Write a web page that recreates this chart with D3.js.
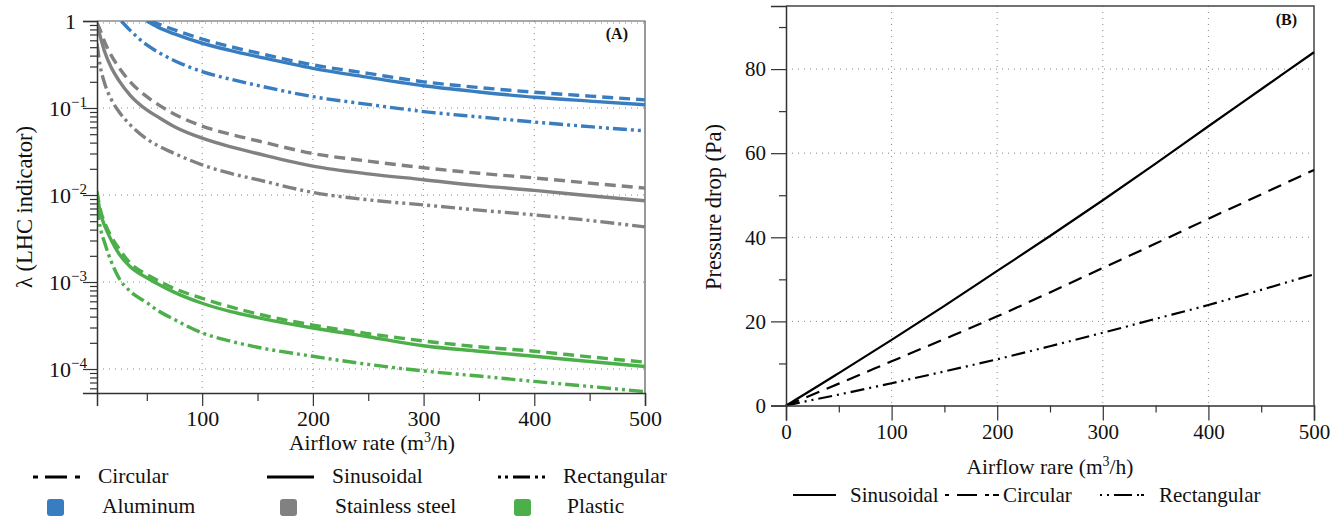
<!DOCTYPE html>
<html>
<head>
<meta charset="utf-8">
<script src="https://cdn.jsdelivr.net/npm/d3@7"></script>
<style>
  body { margin: 0; background: #fff; }
  text { font-family: "Liberation Serif", "DejaVu Serif", serif; fill: #111; }
</style>
</head>
<body>
<script>
// ---- data ----
// panel A: LHC indicator vs airflow rate, log scale
const flowA = [5, 8, 12, 18, 25, 35, 50, 60, 75, 100, 125, 150, 200, 250, 300, 350, 400, 450, 500];

// aluminum curves only enter the frame at lambda = 1
const aluSinFlow = [50, 60, 75, 100, 125, 150, 200, 250, 300, 350, 400, 450, 500];
const aluSin = [1.0, 0.85, 0.71, 0.555, 0.46, 0.39, 0.286, 0.225, 0.18, 0.153, 0.133, 0.12, 0.109];
const aluCirFlow = [54, 60, 75, 100, 125, 150, 200, 250, 300, 350, 400, 450, 500];
const aluCir = [1.0, 0.93, 0.79, 0.62, 0.51, 0.43, 0.313, 0.25, 0.20, 0.172, 0.152, 0.137, 0.124];
const aluRecFlow = [27, 35, 50, 60, 75, 100, 125, 150, 200, 250, 300, 350, 400, 450, 500];
const aluRec = [1.0, 0.78, 0.53, 0.44, 0.35, 0.262, 0.215, 0.182, 0.135, 0.11, 0.091, 0.079, 0.069, 0.061, 0.0546];

const steelSin = [0.90, 0.66, 0.44, 0.29, 0.205, 0.14, 0.095, 0.079, 0.061, 0.045, 0.036, 0.030, 0.0215, 0.0175, 0.015, 0.0128, 0.0113, 0.0098, 0.0086];
const steelCir = [0.95, 0.78, 0.57, 0.40, 0.29, 0.20, 0.135, 0.11, 0.085, 0.062, 0.05, 0.042, 0.030, 0.0245, 0.0206, 0.0178, 0.0157, 0.0137, 0.012];
const steelRec = [0.55, 0.30, 0.19, 0.125, 0.09, 0.064, 0.044, 0.037, 0.030, 0.0222, 0.0178, 0.015, 0.0107, 0.0088, 0.0077, 0.0067, 0.0059, 0.0051, 0.0043];

const plasSin = [0.0105, 0.0063, 0.0044, 0.003, 0.0021, 0.0015, 0.00112, 0.00095, 0.00076, 0.00057, 0.00046, 0.00039, 0.000296, 0.000235, 0.000185, 0.00016, 0.00014, 0.000122, 0.000107];
const plasCir = [0.011, 0.0068, 0.0048, 0.0033, 0.0024, 0.00165, 0.00122, 0.00104, 0.00084, 0.00065, 0.00052, 0.00043, 0.00032, 0.000255, 0.00021, 0.00018, 0.00016, 0.000138, 0.00012];
const plasRec = [0.0075, 0.0042, 0.0028, 0.0017, 0.0011, 0.00078, 0.00058, 0.00047, 0.00037, 0.00026, 0.00021, 0.000178, 0.00014, 0.000113, 0.000095, 0.000083, 0.000072, 0.000063, 0.000055];

// panel B: pressure drop vs airflow rate
const flowB = [0, 5, 50, 100, 150, 200, 250, 300, 350, 400, 450, 500];
const dpSin = [0, 0.75, 7.7, 15.6, 23.7, 32, 40.3, 48.8, 57.5, 66.4, 75.2, 84];
const dpCir = [0, 0.5, 5.2, 10.5, 15.8, 21.2, 26.9, 32.7, 38.5, 44.4, 50.2, 56];
const dpRec = [0, 0.27, 2.6, 5.3, 8.1, 11, 14.1, 17.3, 20.6, 23.9, 27.5, 31.2];

const ticksA_x = [100, 200, 300, 400, 500];
const decadesA = [-4, -3, -2, -1, 0];
const ticksB_x = [0, 100, 200, 300, 400, 500];
const ticksB_y = [0, 20, 40, 60, 80];

const materials = ["Aluminum", "Stainless steel", "Plastic"];
const colors = { "Aluminum": "#397dc1", "Stainless steel": "#818181", "Plastic": "#4caf4a" };
const dash = { sin: null, cir: "11,6", rec: "14,4,3,4,3,4" };

const svg = d3.select("body").append("svg")
    .attr("width", 1341)
    .attr("height", 518)
    .style("background", "#fff");

// ================= panel A =================
const A = { left: 97, right: 645, top: 21, bottom: 393 };
const xA = d3.scaleLinear().domain([5, 500]).range([A.left, A.right]);
const yA = d3.scaleLog().domain([5.3e-5, 1]).range([A.bottom, A.top]);

svg.append("clipPath").attr("id", "clipA")
    .append("rect").attr("x", A.left).attr("y", A.top)
    .attr("width", A.right - A.left).attr("height", A.bottom - A.top);

// grid
const gridA = svg.append("g").attr("stroke", "#888").attr("stroke-width", 1).attr("stroke-dasharray", "1,5");
ticksA_x.filter(d => d < 500).forEach(d => {
    gridA.append("line").attr("x1", xA(d)).attr("x2", xA(d)).attr("y1", A.top).attr("y2", A.bottom);
});
decadesA.forEach(e => {
    const yy = yA(Math.pow(10, e)) + (e === 0 ? 2 : 0);
    gridA.append("line").attr("x1", A.left).attr("x2", A.right).attr("y1", yy).attr("y2", yy);
});

// frame top/right
svg.append("path")
    .attr("d", `M${A.left},${A.top}H${A.right}V${A.bottom}`)
    .attr("fill", "none").attr("stroke", "#555").attr("stroke-width", 1.2);

const lineA = d3.line().x(d => xA(d[0])).y(d => yA(d[1])).curve(d3.curveMonotoneX);
const seriesA = [
    { m: "Aluminum", k: "cir", x: aluCirFlow, y: aluCir },
    { m: "Aluminum", k: "sin", x: aluSinFlow, y: aluSin },
    { m: "Aluminum", k: "rec", x: aluRecFlow, y: aluRec },
    { m: "Stainless steel", k: "cir", x: flowA, y: steelCir },
    { m: "Stainless steel", k: "sin", x: flowA, y: steelSin },
    { m: "Stainless steel", k: "rec", x: flowA, y: steelRec },
    { m: "Plastic", k: "cir", x: flowA, y: plasCir },
    { m: "Plastic", k: "sin", x: flowA, y: plasSin },
    { m: "Plastic", k: "rec", x: flowA, y: plasRec }
];
const plotA = svg.append("g").attr("clip-path", "url(#clipA)");
seriesA.forEach(s => {
    plotA.append("path")
        .datum(s.x.map((v, i) => [v, s.y[i]]))
        .attr("d", lineA)
        .attr("fill", "none")
        .attr("stroke", colors[s.m])
        .attr("stroke-width", 3.4)
        .attr("stroke-dasharray", dash[s.k]);
});

// x axis A
svg.append("g").attr("class", "axA").attr("transform", `translate(0,${A.bottom})`)
    .call(d3.axisBottom(xA).tickValues(ticksA_x).tickSize(13).tickPadding(4).tickFormat(d3.format("d")));
svg.append("g").attr("transform", `translate(0,${A.bottom})`)
    .call(d3.axisBottom(xA).tickValues([50, 150, 250, 350, 450]).tickSize(8).tickFormat(""))
    .call(g => g.select(".domain").remove());

// y axis A
const minorA = [];
[-5, -4, -3, -2, -1].forEach(e => { for (let k = 2; k <= 9; k++) { const v = k * Math.pow(10, e); if (v >= 5.3e-5 && v < 1) minorA.push(v); } });
svg.append("g").attr("transform", `translate(${A.left},0)`)
    .call(d3.axisLeft(yA).tickValues(decadesA.map(e => Math.pow(10, e))).tickSize(14).tickFormat(""));
svg.append("g").attr("transform", `translate(${A.left},0)`)
    .call(d3.axisLeft(yA).tickValues(minorA).tickSize(7).tickFormat(""))
    .call(g => g.select(".domain").remove());

decadesA.forEach(e => {
    const t = svg.append("text")
        .attr("x", e === 0 ? A.left - 21 : A.left - 10)
        .attr("y", yA(Math.pow(10, e)) + 8)
        .attr("text-anchor", "end")
        .attr("font-size", 22);
    if (e === 0) { t.text("1"); }
    else {
        t.append("tspan").text("10");
        t.append("tspan").attr("dy", -9).attr("font-size", 15).text("\u2212" + (-e));
    }
});

svg.append("text").attr("x", 628).attr("y", 39).attr("text-anchor", "end")
    .attr("font-size", 16).attr("font-weight", "bold").text("(A)");

svg.append("text").attr("x", (A.left + A.right) / 2 + 1).attr("y", 450)
    .attr("text-anchor", "middle").attr("font-size", 21.5)
    .call(t => {
        t.append("tspan").text("Airflow rate (m");
        t.append("tspan").attr("dy", -8).attr("font-size", 14).text("3");
        t.append("tspan").attr("dy", 8).text("/h)");
    });
svg.append("text").attr("transform", `translate(32,207) rotate(-90)`)
    .attr("text-anchor", "middle").attr("font-size", 22.5).text("\u03bb (LHC indicator)");

// legend A
const legA = svg.append("g");
const styleRows = [
    { label: "Circular", x1: 33, x2: 80, tx: 98, da: "5,7,22,8,6" },
    { label: "Sinusoidal", x1: 267, x2: 314, tx: 332, da: null },
    { label: "Rectangular", x1: 498, x2: 545, tx: 563, da: "3,4,3,5,17,5,3,4,3" }
];
styleRows.forEach(r => {
    legA.append("line").attr("x1", r.x1).attr("x2", r.x2).attr("y1", 477).attr("y2", 477)
        .attr("stroke", "#000").attr("stroke-width", 3).attr("stroke-dasharray", r.da);
    legA.append("text").attr("x", r.tx).attr("y", 483).attr("font-size", 21.5).text(r.label);
});
const matX = [{ sx: 47, tx: 102 }, { sx: 280, tx: 335 }, { sx: 514, tx: 567 }];
materials.forEach((m, i) => {
    legA.append("rect").attr("x", matX[i].sx).attr("y", 499).attr("width", 17).attr("height", 17)
        .attr("rx", 3).attr("fill", colors[m]);
    legA.append("text").attr("x", matX[i].tx).attr("y", 513).attr("font-size", 21.5).text(m);
});

// ================= panel B =================
const B = { left: 786, right: 1314, top: 6, bottom: 405.5 };
const xB = d3.scaleLinear().domain([0, 500]).range([B.left, B.right]);
const yB = d3.scaleLinear().domain([0, 95]).range([B.bottom, B.top]);

const gridB = svg.append("g").attr("stroke", "#888").attr("stroke-width", 1).attr("stroke-dasharray", "1,5");
[100, 200, 300, 400].forEach(d => {
    gridB.append("line").attr("x1", xB(d)).attr("x2", xB(d)).attr("y1", B.top).attr("y2", B.bottom);
});
[20, 40, 60, 80].forEach(d => {
    gridB.append("line").attr("x1", B.left).attr("x2", B.right).attr("y1", yB(d)).attr("y2", yB(d));
});
svg.append("path")
    .attr("d", `M${B.left},${B.top}H${B.right}V${B.bottom}`)
    .attr("fill", "none").attr("stroke", "#444").attr("stroke-width", 1.5);

const lineB = d3.line().x(d => xB(d[0])).y(d => yB(d[1])).curve(d3.curveMonotoneX);
const seriesB = [
    { y: dpSin, da: null },
    { y: dpCir, da: "14,8" },
    { y: dpRec, da: "14,5,2,5,2,5" }
];
seriesB.forEach(s => {
    svg.append("path")
        .datum(flowB.map((v, i) => [v, s.y[i]]))
        .attr("d", lineB)
        .attr("fill", "none").attr("stroke", "#000").attr("stroke-width", 2.2)
        .attr("stroke-dasharray", s.da);
});

svg.append("g").attr("class", "axB").attr("transform", `translate(0,${B.bottom})`)
    .call(d3.axisBottom(xB).tickValues(ticksB_x).tickSize(15).tickPadding(4).tickFormat(d3.format("d")));
svg.append("g").attr("transform", `translate(0,${B.bottom})`)
    .call(d3.axisBottom(xB).tickValues([50, 150, 250, 350, 450]).tickSize(7).tickFormat(""))
    .call(g => g.select(".domain").remove());
svg.append("g").attr("class", "axB").attr("transform", `translate(${B.left},0)`)
    .call(d3.axisLeft(yB).tickValues(ticksB_y).tickSize(15).tickPadding(5).tickFormat(d3.format("d")));
svg.append("g").attr("transform", `translate(${B.left},0)`)
    .call(d3.axisLeft(yB).tickValues([10, 30, 50, 70, 90]).tickSize(7).tickFormat(""))
    .call(g => g.select(".domain").remove());

svg.append("text").attr("x", 1297).attr("y", 25).attr("text-anchor", "end")
    .attr("font-size", 16).attr("font-weight", "bold").text("(B)");

svg.append("text").attr("x", 1050).attr("y", 474)
    .attr("text-anchor", "middle").attr("font-size", 21.5)
    .call(t => {
        t.append("tspan").text("Airflow rare (m");
        t.append("tspan").attr("dy", -8).attr("font-size", 14).text("3");
        t.append("tspan").attr("dy", 8).text("/h)");
    });
svg.append("text").attr("transform", `translate(721,207) rotate(-90)`)
    .attr("text-anchor", "middle").attr("font-size", 22.5).text("Pressure drop (Pa)");

// legend B
const legB = [
    { label: "Sinusoidal", x1: 793, x2: 836, tx: 850, da: null },
    { label: "Circular", x1: 945, x2: 999, tx: 1003, da: "4,8,20,8,4" },
    { label: "Rectangular", x1: 1100, x2: 1144, tx: 1159, da: "2,5,2,5,18,5,2" }
];
legB.forEach(r => {
    svg.append("line").attr("x1", r.x1).attr("x2", r.x2).attr("y1", 495).attr("y2", 495)
        .attr("stroke", "#000").attr("stroke-width", 2.2).attr("stroke-dasharray", r.da);
    svg.append("text").attr("x", r.tx).attr("y", 502).attr("font-size", 21).text(r.label);
});

// axis styling
svg.selectAll(".domain").attr("stroke", "#333").attr("stroke-width", 1.5);
svg.selectAll(".tick line").attr("stroke", "#333").attr("stroke-width", 1.2);
svg.selectAll(".tick text").attr("font-family", "Liberation Serif, serif").attr("fill", "#111");
svg.selectAll(".axA .tick text").attr("font-size", 22);
svg.selectAll(".axB .tick text").attr("font-size", 21);
</script>
</body>
</html>
